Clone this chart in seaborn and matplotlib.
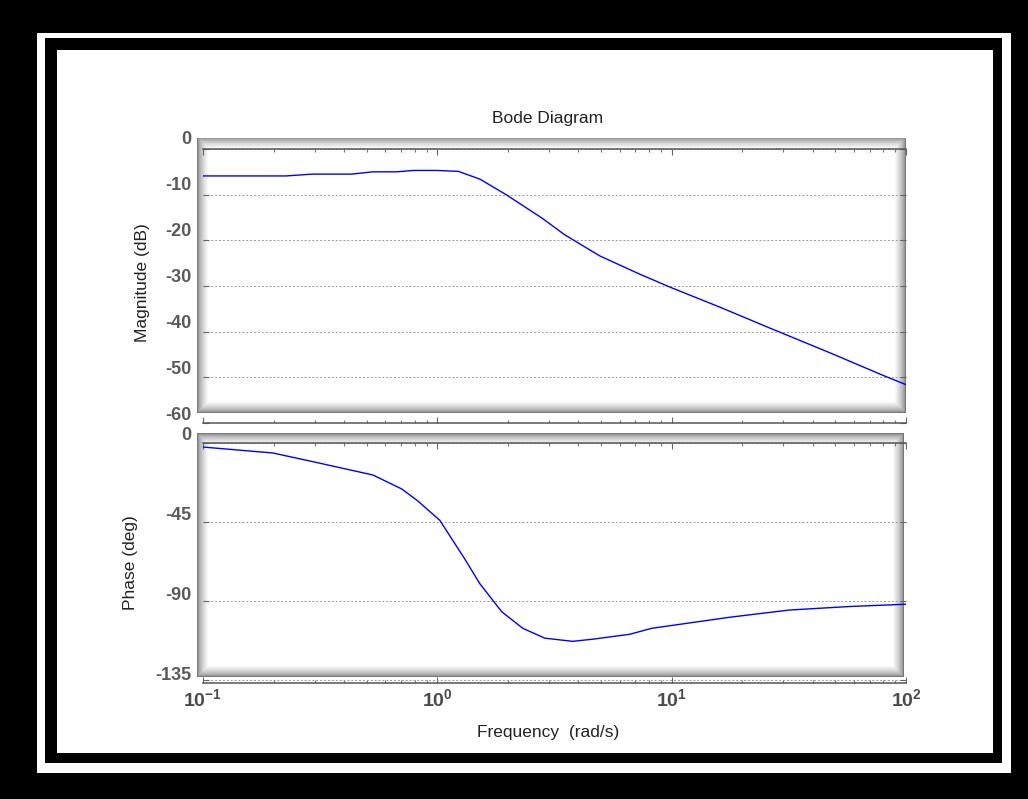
import numpy as np
import matplotlib
matplotlib.use("Agg")
import matplotlib.pyplot as plt
from matplotlib.patches import Rectangle
from matplotlib.ticker import FixedLocator, FixedFormatter, LogLocator, NullFormatter
import seaborn as sns

W, H = 1028, 799

# magnitude curve (rad/s, dB)
mag_freq = [0.1, 0.226, 0.293, 0.43, 0.531, 0.671, 0.787, 1.0, 1.23, 1.52,
            1.98, 2.79, 3.50, 4.93, 7.30, 10.0, 16.0, 26.2, 47.2, 80.9, 100.0]
mag_db = [-5.9, -5.9, -5.5, -5.5, -5.0, -5.0, -4.7, -4.7, -4.9, -6.6,
          -10.1, -15.1, -18.8, -23.4, -27.4, -30.4, -34.6, -39.2, -44.6, -49.7, -51.6]

# phase curve (rad/s, deg)
phase_freq = [0.1, 0.199, 0.287, 0.531, 0.706, 0.826, 1.025, 1.31, 1.518, 1.884,
              2.317, 2.873, 3.78, 4.60, 6.62, 8.22, 17.7, 31.8, 57.4, 100.0]
phase_deg = [-2.3, -5.7, -10.3, -18.2, -26.2, -33.0, -44.0, -66.0, -80.0, -96.0,
             -105.4, -111.0, -112.8, -111.6, -108.8, -105.4, -99.1, -95.0, -93.0, -91.7]

mag_ticks = [0, -10, -20, -30, -40, -50, -60]
phase_ticks = [0, -45, -90, -135]
freq_ticks = [0.1, 1, 10, 100]
freq_labels = [r"$\mathbf{10^{-1}}$", r"$\mathbf{10^{0}}$", r"$\mathbf{10^{1}}$", r"$\mathbf{10^{2}}$"]

sns.set_style("white")
plt.rcParams["font.family"] = ["Liberation Sans", "DejaVu Sans"]
plt.rcParams["axes.unicode_minus"] = False
plt.rcParams["mathtext.fontset"] = "custom"
plt.rcParams["mathtext.rm"] = "Liberation Sans"
plt.rcParams["mathtext.bf"] = "Liberation Sans:bold"

fig = plt.figure(figsize=(W / 100, H / 100), dpi=100, facecolor="black")


def px_rect(x0, y0, x1, y1, color):
    fig.add_artist(Rectangle((x0 / W, 1 - y1 / H), (x1 - x0) / W, (y1 - y0) / H,
                             transform=fig.transFigure, facecolor=color,
                             edgecolor="none", zorder=0))


def px_axes(x0, y0, x1, y1, **kw):
    return fig.add_axes([x0 / W, 1 - y1 / H, (x1 - x0) / W, (y1 - y0) / H], **kw)


# screenshot-like frame
px_rect(37, 33, 1011, 773, "white")
px_rect(45, 38, 1002, 763, "black")
px_rect(57, 50, 993, 753, "white")


def frame_axes(x0, y0, x1, y1, ylim, ticks):
    # shaded box that carries the y tick labels
    ax = px_axes(x0, y0, x1, y1)
    w, h = x1 - x0, y1 - y0
    yy, xx = np.mgrid[0:h, 0:w]
    d = np.minimum.reduce([xx, w - 1 - xx, yy, h - 1 - yy]) / 11.0
    img = 0.48 + 0.52 * np.clip(d, 0, 1) ** 0.6
    ax.imshow(img, cmap="gray", vmin=0, vmax=1, aspect="auto",
              extent=(0, 1, ylim[0], ylim[1]), interpolation="bilinear")
    ax.set_xlim(0, 1)
    ax.set_ylim(*ylim)
    ax.set_xticks([])
    ax.set_yticks(ticks)
    ax.tick_params(axis="y", length=0, pad=4, labelsize=13, labelcolor="#5a5a5a")
    for lab in ax.get_yticklabels():
        lab.set_fontweight("bold")
    for s in ax.spines.values():
        s.set_visible(False)
    return ax


def data_axes(x0, y0, x1, y1, ylim, ticks):
    ax = px_axes(x0, y0, x1, y1)
    ax.patch.set_alpha(0)
    ax.set_xscale("log")
    ax.set_xlim(0.1, 100)
    ax.set_ylim(*ylim)
    ax.xaxis.set_major_locator(FixedLocator(freq_ticks))
    ax.xaxis.set_minor_locator(LogLocator(base=10, subs=np.arange(2, 10)))
    ax.xaxis.set_minor_formatter(NullFormatter())
    ax.set_yticks(ticks)
    ax.yaxis.grid(True, linestyle=(0, (2, 2)), color="#9a9a9a", linewidth=0.7)
    ax.xaxis.grid(False)
    ax.tick_params(axis="both", which="major", direction="in", length=4, width=0.8,
                   color="#666666", top=True, bottom=True, left=True, right=True,
                   labelleft=False, labelbottom=False)
    ax.tick_params(axis="x", which="minor", direction="in", length=2, width=0.8,
                   color="#777777", top=True, bottom=True)
    for side in ["left", "right"]:
        ax.spines[side].set_visible(False)
    for side in ["top", "bottom"]:
        ax.spines[side].set_color("#555555")
        ax.spines[side].set_linewidth(1.1)
    return ax


# magnitude panel
frame_axes(197, 138, 906, 413, (-60, 0), mag_ticks)
ax_mag = data_axes(203, 149, 906, 423, (-60, 0), mag_ticks)
sns.lineplot(x=mag_freq, y=mag_db, ax=ax_mag, color="#0000ff", linewidth=1.0, estimator=None)

# phase panel
frame_axes(197, 433, 904, 677, (-137, 0.5), phase_ticks)
ax_ph = data_axes(203, 443, 906, 683, (-136.5, 0), phase_ticks)
sns.lineplot(x=phase_freq, y=phase_deg, ax=ax_ph, color="#0000ff", linewidth=1.0, estimator=None)
ax_ph.xaxis.set_major_formatter(FixedFormatter(freq_labels))
ax_ph.tick_params(axis="x", which="major", labelbottom=True, pad=4,
                  labelsize=14, labelcolor="#4a4a4a")

for ax in (ax_mag, ax_ph):
    ax.set_xlabel("")
    ax.set_ylabel("")

fig.text(548 / W, 1 - 118 / H, "Bode Diagram", ha="center", va="center",
         fontsize=12.5, color="#222222")
fig.text(548 / W, 1 - 733 / H, "Frequency  (rad/s)", ha="center", va="center",
         fontsize=12.5, color="#222222")
fig.text(143 / W, 1 - 283 / H, "Magnitude (dB)", ha="center", va="center",
         rotation=90, fontsize=12.5, color="#222222")
fig.text(131 / W, 1 - 563 / H, "Phase (deg)", ha="center", va="center",
         rotation=90, fontsize=12.5, color="#222222")

fig.savefig("out.png", dpi=100, facecolor="black")
